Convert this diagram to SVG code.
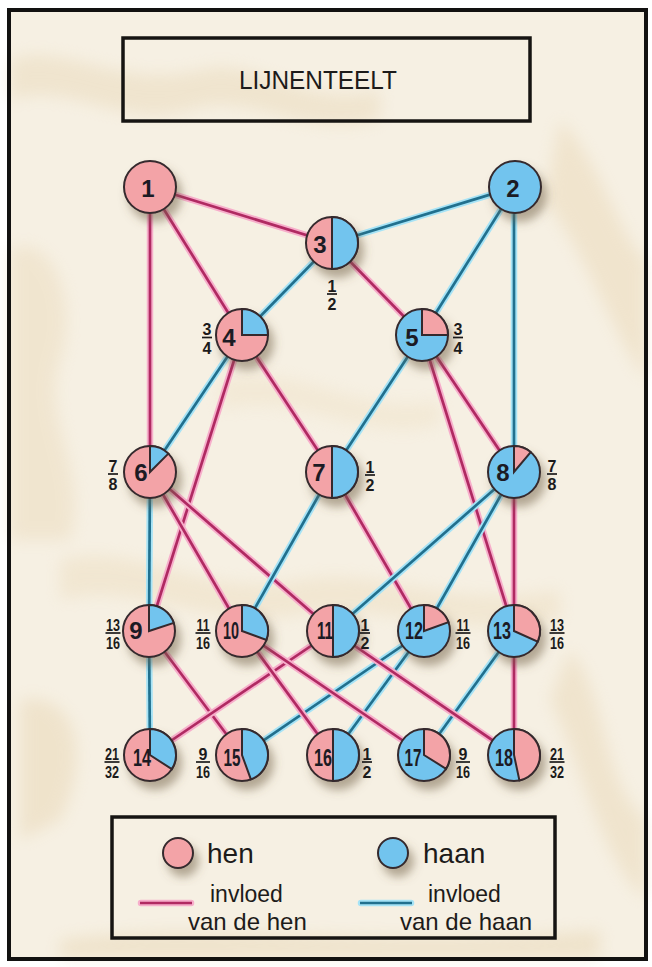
<svg xmlns="http://www.w3.org/2000/svg" width="652" height="967" viewBox="0 0 652 967">
<style>
.pk{fill:#f3a3a7}
.bl{fill:#72c4ee}
.ol{stroke:#35292d;stroke-width:2}
.num{font-family:"Liberation Sans Narrow","Liberation Sans",Arial,sans-serif;font-size:24px;font-weight:bold;fill:#1c1b24;text-anchor:middle}
.fr{font-family:"Liberation Sans Narrow","Liberation Sans",Arial,sans-serif;font-size:16px;font-weight:bold;fill:#1c1b1b;text-anchor:middle}
.bar{stroke:#1c1b1b;stroke-width:1.7}
.ph{stroke:#f7aecb;stroke-width:6.5;stroke-linecap:round}
.pc{stroke:#b02a62;stroke-width:2.7}
.bh{stroke:#a6e3f6;stroke-width:6.5;stroke-linecap:round}
.bc{stroke:#21708e;stroke-width:2.7}
.box{fill:none;stroke:#161412;stroke-width:3.5}
.lab{font-family:"Liberation Sans",Arial,sans-serif;fill:#1d1b1a}
</style>
<defs>
<filter id="sh" x="-60%" y="-60%" width="220%" height="220%">
<feDropShadow dx="5" dy="8" stdDeviation="5" flood-color="#6e5c40" flood-opacity="0.5"/>
</filter>
<filter id="blur" x="-20%" y="-20%" width="140%" height="140%">
<feGaussianBlur stdDeviation="8"/>
</filter>
</defs>
<rect width="652" height="967" fill="#ffffff"/>
<g id="background">
<rect x="9" y="10" width="637" height="949" fill="#f6f0e3"/>
<g filter="url(#blur)" opacity="0.45">
<path d="M10 60 C60 40 120 90 200 70 C260 55 300 110 380 90 L380 120 C300 140 250 90 190 110 C120 130 70 80 10 100 Z" fill="#e8d7b6"/>
<path d="M10 250 C50 230 80 300 60 360 C40 420 90 470 70 540 L10 540 Z" fill="#ead9b9"/>
<path d="M560 120 C600 160 620 240 646 260 L646 380 C610 330 590 260 545 200 Z" fill="#e9d6b3"/>
<path d="M60 560 C140 540 200 600 300 580 C380 565 440 610 560 590 L560 620 C440 640 380 600 300 615 C200 630 140 580 60 600 Z" fill="#ecdcbd"/>
<path d="M20 700 C80 690 90 760 60 820 L20 840 Z" fill="#e7d4b0"/>
<path d="M570 650 C610 700 600 780 646 820 L646 900 C600 860 580 760 550 700 Z" fill="#e8d6b4"/>
<path d="M220 380 C300 360 360 420 440 400 L440 425 C360 445 300 390 220 410 Z" fill="#efe1c6"/>
<path d="M60 940 C200 920 380 950 600 930 L600 958 L60 958 Z" fill="#e6d3ae"/>
</g>
<rect x="9" y="10" width="637" height="949" fill="none" stroke="#121110" stroke-width="4"/>
</g>
<g id="title">
<rect x="123" y="38" width="407" height="83" class="box"/>
<text x="318" y="89" class="lab" font-size="26" text-anchor="middle" textLength="158" lengthAdjust="spacingAndGlyphs">LIJNENTEELT</text>
</g>
<g id="connectors">
<line class="ph" x1="150" y1="187" x2="332" y2="243"/><line class="pc" x1="150" y1="187" x2="332" y2="243"/>
<line class="ph" x1="150" y1="187" x2="242" y2="335"/><line class="pc" x1="150" y1="187" x2="242" y2="335"/>
<line class="ph" x1="150" y1="187" x2="150" y2="472"/><line class="pc" x1="150" y1="187" x2="150" y2="472"/>
<line class="bh" x1="515" y1="187" x2="332" y2="243"/><line class="bc" x1="515" y1="187" x2="332" y2="243"/>
<line class="bh" x1="515" y1="187" x2="422" y2="335"/><line class="bc" x1="515" y1="187" x2="422" y2="335"/>
<line class="bh" x1="514" y1="187" x2="514" y2="472"/><line class="bc" x1="514" y1="187" x2="514" y2="472"/>
<line class="bh" x1="332" y1="243" x2="242" y2="335"/><line class="bc" x1="332" y1="243" x2="242" y2="335"/>
<line class="ph" x1="332" y1="243" x2="422" y2="335"/><line class="pc" x1="332" y1="243" x2="422" y2="335"/>
<line class="bh" x1="242" y1="335" x2="150" y2="472"/><line class="bc" x1="242" y1="335" x2="150" y2="472"/>
<line class="ph" x1="242" y1="335" x2="332" y2="472"/><line class="pc" x1="242" y1="335" x2="332" y2="472"/>
<line class="ph" x1="242" y1="335" x2="149" y2="631"/><line class="pc" x1="242" y1="335" x2="149" y2="631"/>
<line class="bh" x1="422" y1="335" x2="332" y2="472"/><line class="bc" x1="422" y1="335" x2="332" y2="472"/>
<line class="ph" x1="422" y1="335" x2="514" y2="472"/><line class="pc" x1="422" y1="335" x2="514" y2="472"/>
<line class="ph" x1="422" y1="335" x2="514" y2="631"/><line class="pc" x1="422" y1="335" x2="514" y2="631"/>
<line class="bh" x1="150" y1="472" x2="149" y2="631"/><line class="bc" x1="150" y1="472" x2="149" y2="631"/>
<line class="ph" x1="150" y1="472" x2="242" y2="631"/><line class="pc" x1="150" y1="472" x2="242" y2="631"/>
<line class="ph" x1="150" y1="472" x2="333" y2="631"/><line class="pc" x1="150" y1="472" x2="333" y2="631"/>
<line class="bh" x1="332" y1="472" x2="242" y2="631"/><line class="bc" x1="332" y1="472" x2="242" y2="631"/>
<line class="ph" x1="332" y1="472" x2="424" y2="631"/><line class="pc" x1="332" y1="472" x2="424" y2="631"/>
<line class="bh" x1="514" y1="472" x2="333" y2="631"/><line class="bc" x1="514" y1="472" x2="333" y2="631"/>
<line class="bh" x1="514" y1="472" x2="424" y2="631"/><line class="bc" x1="514" y1="472" x2="424" y2="631"/>
<line class="ph" x1="514" y1="472" x2="514" y2="631"/><line class="pc" x1="514" y1="472" x2="514" y2="631"/>
<line class="bh" x1="149" y1="631" x2="150" y2="755"/><line class="bc" x1="149" y1="631" x2="150" y2="755"/>
<line class="ph" x1="149" y1="631" x2="242" y2="755"/><line class="pc" x1="149" y1="631" x2="242" y2="755"/>
<line class="ph" x1="333" y1="631" x2="150" y2="755"/><line class="pc" x1="333" y1="631" x2="150" y2="755"/>
<line class="bh" x1="424" y1="631" x2="242" y2="755"/><line class="bc" x1="424" y1="631" x2="242" y2="755"/>
<line class="ph" x1="242" y1="631" x2="333" y2="755"/><line class="pc" x1="242" y1="631" x2="333" y2="755"/>
<line class="bh" x1="424" y1="631" x2="333" y2="755"/><line class="bc" x1="424" y1="631" x2="333" y2="755"/>
<line class="ph" x1="242" y1="631" x2="424" y2="755"/><line class="pc" x1="242" y1="631" x2="424" y2="755"/>
<line class="bh" x1="514" y1="631" x2="424" y2="755"/><line class="bc" x1="514" y1="631" x2="424" y2="755"/>
<line class="ph" x1="333" y1="631" x2="514" y2="755"/><line class="pc" x1="333" y1="631" x2="514" y2="755"/>
<line class="ph" x1="514" y1="631" x2="514" y2="755"/><line class="pc" x1="514" y1="631" x2="514" y2="755"/>
</g>
<g id="node1"><circle cx="150" cy="187" r="26" class="pk ol" filter="url(#sh)"/><text x="148" y="197" class="num">1</text></g>
<g id="node2"><circle cx="515" cy="187" r="26" class="bl ol" filter="url(#sh)"/><text x="513" y="197" class="num">2</text></g>
<g id="node3"><circle cx="332" cy="243" r="26" class="pk ol" filter="url(#sh)"/><path d="M332 243 L332 217 A26 26 0 0 1 332 269 Z" class="bl ol"/><text x="320" y="253" class="num">3</text>
<text x="332" y="291.5" class="fr">1</text><line x1="327" y1="294" x2="337" y2="294" class="bar"/><text x="332" y="310" class="fr">2</text></g>
<g id="node4"><circle cx="242" cy="335" r="26" class="pk ol" filter="url(#sh)"/><path d="M242 335 L242 309 A26 26 0 0 1 268 335 Z" class="bl ol"/><text x="229" y="346" class="num">4</text>
<text x="207" y="335" class="fr">3</text><line x1="202" y1="337.5" x2="212" y2="337.5" class="bar"/><text x="207" y="353.5" class="fr">4</text></g>
<g id="node5"><circle cx="422" cy="335" r="26" class="bl ol" filter="url(#sh)"/><path d="M422 335 L422 309 A26 26 0 0 1 448 335 Z" class="pk ol"/><text x="412" y="346" class="num">5</text>
<text x="458" y="335" class="fr">3</text><line x1="453" y1="337.5" x2="463" y2="337.5" class="bar"/><text x="458" y="353.5" class="fr">4</text></g>
<g id="node6"><circle cx="150" cy="472" r="26" class="pk ol" filter="url(#sh)"/><path d="M150 472 L150 446 A26 26 0 0 1 168.38 453.62 Z" class="bl ol"/><text x="141" y="481" class="num">6</text>
<text x="113" y="471.5" class="fr">7</text><line x1="108" y1="474" x2="118" y2="474" class="bar"/><text x="113" y="490" class="fr">8</text></g>
<g id="node7"><circle cx="332" cy="472" r="26" class="pk ol" filter="url(#sh)"/><path d="M332 472 L332 446 A26 26 0 0 1 332 498 Z" class="bl ol"/><text x="319" y="481" class="num">7</text>
<text x="370" y="472.5" class="fr">1</text><line x1="365" y1="475" x2="375" y2="475" class="bar"/><text x="370" y="491" class="fr">2</text></g>
<g id="node8"><circle cx="514" cy="472" r="26" class="bl ol" filter="url(#sh)"/><path d="M514 472 L514 446 A26 26 0 0 1 530.71 452.08 Z" class="pk ol"/><text x="503" y="481" class="num">8</text>
<text x="552" y="471.5" class="fr">7</text><line x1="547" y1="474" x2="557" y2="474" class="bar"/><text x="552" y="490" class="fr">8</text></g>
<g id="node9"><circle cx="149" cy="631" r="26" class="pk ol" filter="url(#sh)"/><path d="M149 631 L149 605 A26 26 0 0 1 173.73 622.97 Z" class="bl ol"/><text x="136" y="639" class="num">9</text>
<text x="113" y="630.5" class="fr" textLength="14" lengthAdjust="spacingAndGlyphs">13</text><line x1="105.5" y1="633" x2="120.5" y2="633" class="bar"/><text x="113" y="649" class="fr" textLength="14" lengthAdjust="spacingAndGlyphs">16</text></g>
<g id="node10"><circle cx="242" cy="631" r="26" class="pk ol" filter="url(#sh)"/><path d="M242 631 L242 605 A26 26 0 0 1 266.43 639.89 Z" class="bl ol"/><text x="231" y="639" class="num" textLength="16" lengthAdjust="spacingAndGlyphs">10</text>
<text x="203" y="630.5" class="fr" textLength="13" lengthAdjust="spacingAndGlyphs">11</text><line x1="195.5" y1="633" x2="210.5" y2="633" class="bar"/><text x="203" y="649" class="fr" textLength="14" lengthAdjust="spacingAndGlyphs">16</text></g>
<g id="node11"><circle cx="333" cy="631" r="26" class="pk ol" filter="url(#sh)"/><path d="M333 631 L333 605 A26 26 0 0 1 333 657 Z" class="bl ol"/><text x="325" y="639" class="num" textLength="16" lengthAdjust="spacingAndGlyphs">11</text>
<text x="365" y="630.5" class="fr">1</text><line x1="360" y1="633" x2="370" y2="633" class="bar"/><text x="365" y="649" class="fr">2</text></g>
<g id="node12"><circle cx="424" cy="631" r="26" class="bl ol" filter="url(#sh)"/><path d="M424 631 L424 605 A26 26 0 0 1 448.43 622.11 Z" class="pk ol"/><text x="414" y="639" class="num" textLength="18" lengthAdjust="spacingAndGlyphs">12</text>
<text x="463" y="630.5" class="fr" textLength="13" lengthAdjust="spacingAndGlyphs">11</text><line x1="455.5" y1="633" x2="470.5" y2="633" class="bar"/><text x="463" y="649" class="fr" textLength="14" lengthAdjust="spacingAndGlyphs">16</text></g>
<g id="node13"><circle cx="514" cy="631" r="26" class="bl ol" filter="url(#sh)"/><path d="M514 631 L514 605 A26 26 0 0 1 537.75 641.58 Z" class="pk ol"/><text x="502" y="639" class="num" textLength="18" lengthAdjust="spacingAndGlyphs">13</text>
<text x="557" y="630.5" class="fr" textLength="14" lengthAdjust="spacingAndGlyphs">13</text><line x1="549.5" y1="633" x2="564.5" y2="633" class="bar"/><text x="557" y="649" class="fr" textLength="14" lengthAdjust="spacingAndGlyphs">16</text></g>
<g id="node14"><circle cx="150" cy="755" r="26" class="pk ol" filter="url(#sh)"/><path d="M150 755 L150 729 A26 26 0 0 1 171.81 769.16 Z" class="bl ol"/><text x="142" y="766" class="num" textLength="18" lengthAdjust="spacingAndGlyphs">14</text>
<text x="112" y="759.5" class="fr" textLength="14" lengthAdjust="spacingAndGlyphs">21</text><line x1="104.5" y1="762" x2="119.5" y2="762" class="bar"/><text x="112" y="778" class="fr" textLength="14" lengthAdjust="spacingAndGlyphs">32</text></g>
<g id="node15"><circle cx="242" cy="755" r="26" class="pk ol" filter="url(#sh)"/><path d="M242 755 L242 729 A26 26 0 0 1 250.89 779.43 Z" class="bl ol"/><text x="232" y="766" class="num" textLength="17" lengthAdjust="spacingAndGlyphs">15</text>
<text x="203" y="759.5" class="fr">9</text><line x1="196" y1="762" x2="210" y2="762" class="bar"/><text x="203" y="778" class="fr" textLength="14" lengthAdjust="spacingAndGlyphs">16</text></g>
<g id="node16"><circle cx="333" cy="755" r="26" class="pk ol" filter="url(#sh)"/><path d="M333 755 L333 729 A26 26 0 0 1 333 781 Z" class="bl ol"/><text x="323" y="766" class="num" textLength="18" lengthAdjust="spacingAndGlyphs">16</text>
<text x="367" y="759.5" class="fr">1</text><line x1="362" y1="762" x2="372" y2="762" class="bar"/><text x="367" y="778" class="fr">2</text></g>
<g id="node17"><circle cx="424" cy="755" r="26" class="bl ol" filter="url(#sh)"/><path d="M424 755 L424 729 A26 26 0 0 1 446.05 768.78 Z" class="pk ol"/><text x="413" y="766" class="num" textLength="17" lengthAdjust="spacingAndGlyphs">17</text>
<text x="463" y="759.5" class="fr">9</text><line x1="456" y1="762" x2="470" y2="762" class="bar"/><text x="463" y="778" class="fr" textLength="14" lengthAdjust="spacingAndGlyphs">16</text></g>
<g id="node18"><circle cx="514" cy="755" r="26" class="bl ol" filter="url(#sh)"/><path d="M514 755 L514 729 A26 26 0 0 1 519.41 780.43 Z" class="pk ol"/><text x="504" y="766" class="num" textLength="18" lengthAdjust="spacingAndGlyphs">18</text>
<text x="557" y="759.5" class="fr" textLength="14" lengthAdjust="spacingAndGlyphs">21</text><line x1="549.5" y1="762" x2="564.5" y2="762" class="bar"/><text x="557" y="778" class="fr" textLength="14" lengthAdjust="spacingAndGlyphs">32</text></g>
<g id="legend">
<rect x="112" y="817" width="443" height="121" class="box"/>
<circle cx="178" cy="853" r="15" class="pk ol" filter="url(#sh)"/>
<text x="207" y="863" class="lab" font-size="28">hen</text>
<circle cx="393" cy="853" r="15" class="bl ol" filter="url(#sh)"/>
<text x="423" y="863" class="lab" font-size="28">haan</text>
<line class="ph" x1="141" y1="903" x2="191" y2="903"/><line class="pc" x1="140" y1="903" x2="192" y2="903" stroke-width="3"/>
<line class="bh" x1="361" y1="903" x2="411" y2="903"/><line class="bc" x1="360" y1="903" x2="412" y2="903" stroke-width="3"/>
<text x="210" y="902" class="lab" font-size="23">invloed</text>
<text x="188" y="930" class="lab" font-size="24">van de hen</text>
<text x="428" y="902" class="lab" font-size="23">invloed</text>
<text x="400" y="930" class="lab" font-size="24">van de haan</text>
</g>
</svg>
